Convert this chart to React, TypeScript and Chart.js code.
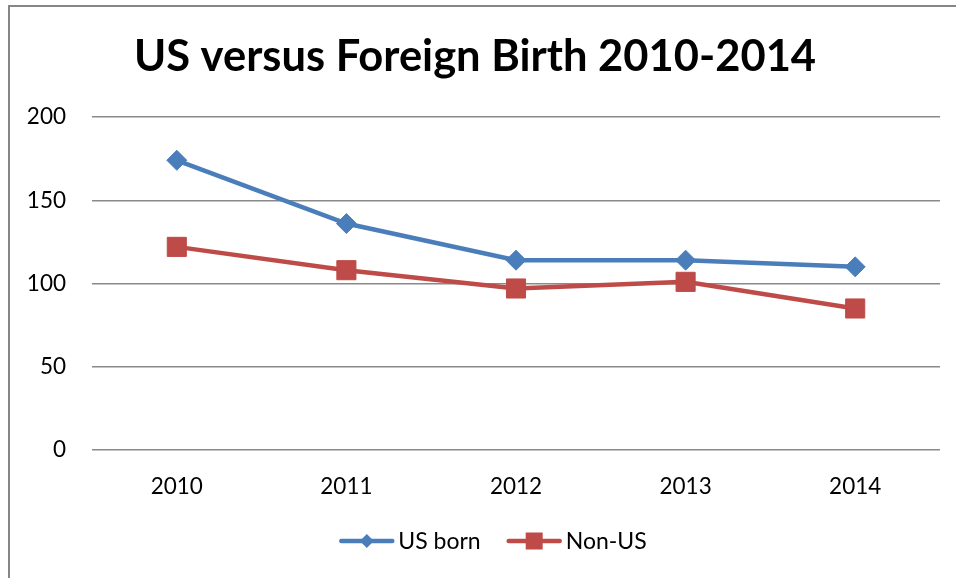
import React, { useEffect, useRef } from "react";
import { Chart, registerables } from "chart.js";

Chart.register(...registerables);

const TITLE = "US versus Foreign Birth 2010-2014";
const YEARS = ["2010", "2011", "2012", "2013", "2014"];
const US_BORN = [174, 136, 114, 114, 110];
const NON_US = [122, 108, 97, 101, 85];
const SERIES_LABELS = ["US born", "Non-US"];
const Y_MIN = 0;
const Y_MAX = 200;
const Y_STEP = 50;

const BLUE = "#4A7EBB";
const RED = "#BE4B48";
const FONT = "Lato, 'Open Sans', sans-serif";

const lineLegend = {
  id: "lineLegend",
  afterDraw(chart: any) {
    const ctx: CanvasRenderingContext2D = chart.ctx;
    ctx.save();
    ctx.font = `23px ${FONT}`;
    const lineW = 55;
    const gap = 4;
    const itemGap = 26;
    const items = chart.data.datasets.map((ds: any) => ({
      ds,
      tw: ctx.measureText(ds.label).width,
    }));
    const total =
      items.reduce((s: number, it: any) => s + lineW + gap + it.tw, 0) +
      itemGap * (items.length - 1);
    let x = chart.width / 2 + 10 - total / 2;
    const y = chart.height - 37;
    items.forEach((it: any) => {
      const ds = it.ds;
      ctx.strokeStyle = ds.borderColor;
      ctx.lineWidth = 4.5;
      ctx.lineCap = "round";
      ctx.beginPath();
      ctx.moveTo(x + 2, y);
      ctx.lineTo(x + lineW - 2, y);
      ctx.stroke();
      const cx = x + lineW / 2;
      ctx.fillStyle = ds.backgroundColor;
      ctx.beginPath();
      if (ds.pointStyle === "rectRot") {
        const r = 7;
        ctx.moveTo(cx, y - r);
        ctx.lineTo(cx + r, y);
        ctx.lineTo(cx, y + r);
        ctx.lineTo(cx - r, y);
        ctx.closePath();
      } else {
        const h = 8.5;
        ctx.rect(cx - h, y - h, 2 * h, 2 * h);
      }
      ctx.fill();
      ctx.fillStyle = "#000";
      ctx.textBaseline = "middle";
      ctx.textAlign = "left";
      ctx.fillText(ds.label, x + lineW + gap, y + 1);
      x += lineW + gap + it.tw + itemGap;
    });
    ctx.restore();
  },
};

export default function App() {
  const ref = useRef<HTMLCanvasElement | null>(null);

  useEffect(() => {
    if (!ref.current) return;
    const chart = new Chart(ref.current, {
      type: "line",
      data: {
        labels: YEARS,
        datasets: [
          {
            label: SERIES_LABELS[0],
            data: US_BORN,
            borderColor: BLUE,
            backgroundColor: BLUE,
            borderWidth: 4.5,
            pointStyle: "rectRot",
            pointRadius: 10,
            pointBorderWidth: 1,
            pointBorderColor: BLUE,
            pointBackgroundColor: BLUE,
            tension: 0,
          },
          {
            label: SERIES_LABELS[1],
            data: NON_US,
            borderColor: RED,
            backgroundColor: RED,
            borderWidth: 4.5,
            pointStyle: "rect",
            pointRadius: 13.5,
            pointBorderWidth: 1,
            pointBorderColor: RED,
            pointBackgroundColor: RED,
            tension: 0,
          },
        ],
      },
      options: {
        animation: false,
        responsive: false,
        maintainAspectRatio: false,
        layout: { padding: { left: 0, right: 16, top: 0, bottom: 68 } },
        plugins: {
          legend: { display: false },
          tooltip: { enabled: false },
          title: {
            display: true,
            text: TITLE,
            color: "#000",
            font: { family: FONT, size: 43.5, weight: "bold", lineHeight: 1.2 },
            padding: { top: 24, bottom: 33.8 },
          },
        },
        scales: {
          x: {
            offset: true,
            grid: { display: false, drawTicks: false },
            border: { display: false },
            ticks: {
              color: "#000",
              padding: 23,
              font: { family: FONT, size: 22.5 },
            },
            afterFit(scale: any) {
              scale.height = 60;
            },
          },
          y: {
            min: Y_MIN,
            max: Y_MAX,
            grid: { color: "#898989", lineWidth: 1.5, drawTicks: false },
            border: { display: false },
            ticks: {
              stepSize: Y_STEP,
              color: "#000",
              padding: 26,
              font: { family: FONT, size: 22.5 },
            },
            afterFit(scale: any) {
              scale.width = 82;
            },
          },
        },
      },
      plugins: [lineLegend],
    });
    return () => chart.destroy();
  }, []);

  return (
    <div
      style={{
        position: "absolute",
        left: 8,
        top: 5,
        width: 960,
        height: 590,
        borderLeft: "2px solid #868686",
        borderTop: "2px solid #868686",
        background: "#fff",
      }}
    >
      <canvas ref={ref} width={946} height={571} style={{ display: "block" }} />
    </div>
  );
}
